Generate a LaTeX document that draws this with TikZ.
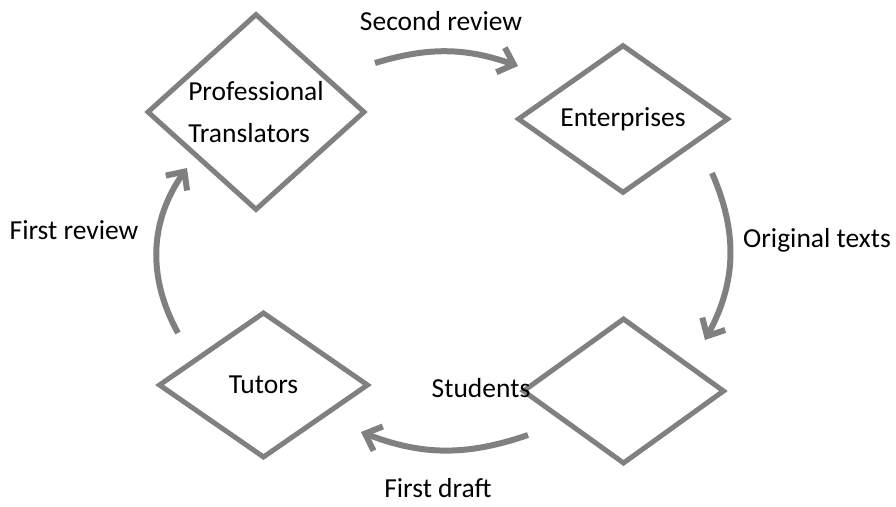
\documentclass[tikz,border=0pt]{standalone}
\usepackage{fontspec}
\setmainfont{Carlito}
\usepackage{tikz}
\usetikzlibrary{shapes.geometric,arrows.meta}
\definecolor{flowgray}{RGB}{128,128,128}

\begin{document}
\begin{tikzpicture}[x=1pt,y=-1pt,
    every node/.style={font=\fontsize{27.5}{42}\selectfont},
    party/.style={diamond,draw=flowgray,line width=5pt,inner sep=0pt},
    flow/.style={draw=flowgray,line width=6pt,-{Straight Barb[length=14pt,width=26pt]}}]
    \useasboundingbox (0,0) rectangle (896,506);

    % the four parties
    \node[party,minimum width=218pt,minimum height=158pt,align=left] (translators) at (256,112) {Professional\\Translators};
    \node[party,minimum width=211pt,minimum height=146pt] (enterprises) at (623,119) {Enterprises};
    \node[party,minimum width=202pt,minimum height=146pt] (students) at (623.5,391) {};
    \node[party,minimum width=210pt,minimum height=146pt] (tutors) at (263.5,385) {Tutors};
    \node (studentslabel) at (481,388) {Students};

    % ends of the curved arrows
    \coordinate (reviewBstart) at (375,63);
    \coordinate (reviewBend) at (518,66);
    \coordinate (textsstart) at (712,173);
    \coordinate (textsend) at (705,340);
    \coordinate (draftstart) at (528,435);
    \coordinate (draftend) at (361,432);
    \coordinate (reviewAstart) at (178,333);
    \coordinate (reviewAend) at (187,168);

    \draw[flow] (reviewBstart) to[bend left=18] (reviewBend);
    \draw[flow] (textsstart) to[bend left=26] (textsend);
    \draw[flow] (draftstart) to[bend left=20] (draftend);
    \draw[flow] (reviewAstart) to[bend left=32] (reviewAend);

    % arrow labels
    \node (secondreview) at (441,21) {Second review};
    \node (originaltexts) at (817,240) {Original texts};
    \node[inner sep=0pt] (firstdraft) at (438,488) {First draft};
    \node (firstreview) at (74,230) {First review};
\end{tikzpicture}
\end{document}
